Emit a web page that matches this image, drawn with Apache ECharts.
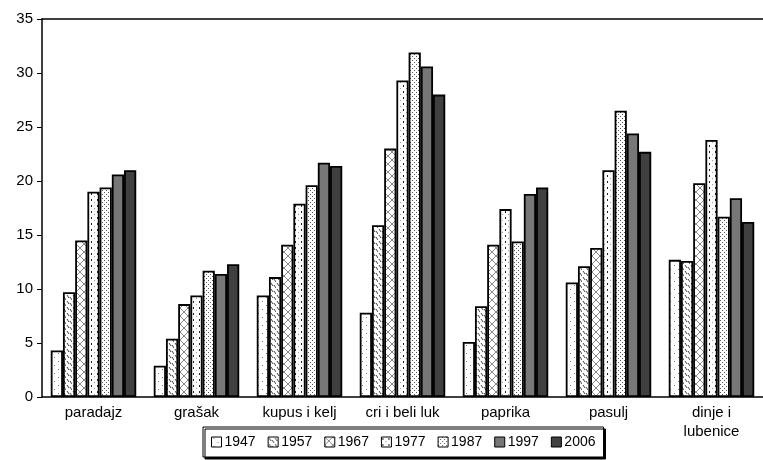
<!DOCTYPE html>
<html>
<head>
<meta charset="utf-8">
<script src="https://cdn.jsdelivr.net/npm/echarts@6/dist/echarts.min.js"></script>
<style>
  html, body { margin: 0; padding: 0; background: #fff; }
  #chart { width: 763px; height: 460px; }
</style>
</head>
<body>
<div id="chart"></div>
<script>
// kategorije i godine
var categories = ['paradajz', 'grašak', 'kupus i kelj', 'cri i beli luk', 'paprika', 'pasulj', 'dinje i\nlubenice'];
var years = ['1947', '1957', '1967', '1977', '1987', '1997', '2006'];
var yTicks = [0, 5, 10, 15, 20, 25, 30, 35];

// vrednosti po godinama (procitano sa slike)
var v1947 = [4.3, 2.9, 9.4, 7.8, 5.1, 10.6, 12.7];
var v1957 = [9.7, 5.4, 11.1, 15.9, 8.4, 12.1, 12.6];
var v1967 = [14.5, 8.6, 14.1, 23.0, 14.1, 13.8, 19.8];
var v1977 = [19.0, 9.4, 17.9, 29.3, 17.4, 21.0, 23.8];
var v1987 = [19.4, 11.7, 19.6, 31.9, 14.4, 26.5, 16.7];
var v1997 = [20.6, 11.4, 21.7, 30.6, 18.8, 24.4, 18.4];
var v2006 = [21.0, 12.3, 21.4, 28.0, 19.4, 22.7, 16.2];

var values = [v1947, v1957, v1967, v1977, v1987, v1997, v2006];

// sare (patterns) za stubice
function makePattern(size, draw) {
    var c = document.createElement('canvas');
    c.width = size; c.height = size;
    var ctx = c.getContext('2d');
    ctx.fillStyle = '#fff';
    ctx.fillRect(0, 0, size, size);
    draw(ctx);
    return { image: c, repeat: 'repeat' };
}

var fills = [
    // 1947 - retke tackice
    makePattern(8, function (ctx) {
        ctx.fillStyle = '#777';
        ctx.fillRect(2, 1, 1, 1);
        ctx.fillRect(6, 5, 1, 1);
    }),
    // 1957 - kose crtice
    makePattern(6, function (ctx) {
        ctx.strokeStyle = '#444';
        ctx.lineWidth = 1;
        ctx.beginPath();
        ctx.moveTo(1, 1); ctx.lineTo(3, 4);
        ctx.moveTo(4, 3); ctx.lineTo(6, 6);
        ctx.stroke();
    }),
    // 1967 - mreza
    makePattern(8, function (ctx) {
        ctx.strokeStyle = '#888';
        ctx.lineWidth = 1;
        ctx.beginPath();
        ctx.moveTo(0, 0); ctx.lineTo(8, 8);
        ctx.moveTo(8, 0); ctx.lineTo(0, 8);
        ctx.stroke();
    }),
    // 1977 - tackice u kolonama
    makePattern(6, function (ctx) {
        ctx.fillStyle = '#222';
        ctx.fillRect(1, 1, 1, 2);
        ctx.fillStyle = '#999';
        ctx.fillRect(4, 4, 1, 1);
    }),
    // 1987 - guste tackice
    makePattern(4, function (ctx) {
        ctx.fillStyle = '#555';
        ctx.fillRect(0, 0, 1, 1);
        ctx.fillRect(2, 2, 1, 1);
    }),
    '#777777',
    '#404040'
];

var series = [];
for (var i = 0; i < years.length; i++) {
    series.push({
        name: years[i],
        type: 'bar',
        data: values[i],
        barGap: '0%',
        barCategoryGap: '17%',
        itemStyle: {
            color: fills[i],
            borderColor: '#000',
            borderWidth: 1.8
        }
    });
}

var myChart = echarts.init(document.getElementById('chart'));
var option = {
    animation: false,
    textStyle: { fontFamily: 'Liberation Sans, Arial, sans-serif' },
    grid: {
        left: 42,
        right: 0,
        top: 19,
        bottom: 63
    },
    legend: {
        data: years,
        icon: 'rect',
        bottom: 3,
        left: 203,
        itemWidth: 10,
        itemHeight: 10,
        itemGap: 12,
        padding: [8, 8, 8, 8],
        backgroundColor: '#fff',
        borderColor: '#000',
        borderWidth: 1,
        shadowColor: '#000',
        shadowOffsetX: 2,
        shadowOffsetY: 2,
        shadowBlur: 0,
        textStyle: { color: '#000', fontSize: 14, padding: [0, 0, 0, -2] },
        itemStyle: { borderColor: '#000', borderWidth: 1 }
    },
    xAxis: [{
        type: 'category',
        data: categories,
        axisLine: { lineStyle: { color: '#000', width: 1.5 } },
        axisTick: { show: false },
        axisLabel: { color: '#000', fontSize: 15, margin: 6, lineHeight: 19, interval: 0 }
    }, {
        type: 'category',
        position: 'top',
        data: categories,
        axisLine: { lineStyle: { color: '#000', width: 1.5 } },
        axisTick: { show: false },
        axisLabel: { show: false }
    }],
    yAxis: {
        type: 'value',
        min: yTicks[0],
        max: yTicks[yTicks.length - 1],
        interval: 5,
        axisLine: { show: true, lineStyle: { color: '#000', width: 1.5 } },
        axisTick: { show: true, length: 5, lineStyle: { color: '#000' } },
        axisLabel: { color: '#000', fontSize: 15, margin: 9 },
        splitLine: { show: false }
    },
    series: series
};
myChart.setOption(option);
window.addEventListener('resize', function () {
    myChart.resize();
});
</script>
</body>
</html>
